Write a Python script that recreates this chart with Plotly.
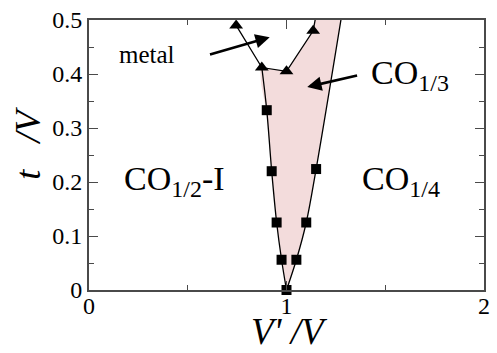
import plotly.graph_objects as go

# Phase boundary CO1/2-I | CO1/3 (squares)
left_x = [1.0, 0.975, 0.95, 0.925, 0.90]
left_y = [0.0, 0.056, 0.125, 0.220, 0.333]

# Phase boundary CO1/3 | CO1/4 (squares)
right_x = [1.0, 1.05, 1.10, 1.15]
right_y = [0.0, 0.056, 0.125, 0.224]

# Metal boundary (triangles)
metal_x = [0.745, 0.875, 1.0, 1.135]
metal_y = [0.490, 0.412, 0.405, 0.480]

# Guide-line continuations beyond the computed points
left_ext_x, left_ext_y = [0.875], [0.412]
right_ext_x, right_ext_y = [1.28], [0.51]
metal_ext_x, metal_ext_y = [1.15], [0.51]

# Outline of the CO1/3 region
shade_x = [1.0, 0.975, 0.95, 0.925, 0.897, 0.872, 0.866, 0.875, 1.0, 1.135, 1.15, 1.28, 1.15, 1.10, 1.05, 1.0]
shade_y = [0.0, 0.056, 0.125, 0.220, 0.333, 0.380, 0.412, 0.412, 0.405, 0.480, 0.51, 0.51, 0.224, 0.125, 0.056, 0.0]

FONT = "Liberation Serif"
AX = "#4a4a4a"

fig = go.Figure()

fig.add_trace(go.Scatter(
    x=shade_x, y=shade_y, mode="lines", fill="toself",
    fillcolor="#f3dcdc", line=dict(width=0), hoverinfo="skip",
))

fig.add_trace(go.Scatter(
    x=left_x + left_ext_x, y=left_y + left_ext_y, mode="lines",
    line=dict(color="black", width=1.3, shape="spline"),
))
fig.add_trace(go.Scatter(
    x=right_x + right_ext_x, y=right_y + right_ext_y, mode="lines",
    line=dict(color="black", width=1.3, shape="spline"),
))
fig.add_trace(go.Scatter(
    x=metal_x + metal_ext_x, y=metal_y + metal_ext_y, mode="lines",
    line=dict(color="black", width=1.3),
))

fig.add_trace(go.Scatter(
    x=left_x + right_x[1:], y=left_y + right_y[1:], mode="markers",
    marker=dict(symbol="square", size=10, color="black"), cliponaxis=False,
))
fig.add_trace(go.Scatter(
    x=metal_x, y=metal_y, mode="markers",
    marker=dict(symbol="triangle-up", size=12, color="black"), cliponaxis=False,
))


def co(sub, tail=""):
    return f"CO<sub><span style='font-size:24px'>{sub}</span></sub>{tail}"


txt = dict(family=FONT, size=34, color="black")
fig.add_annotation(x=0.165, y=0.2025, text=co("1/2", "-I"), showarrow=False,
                   xanchor="left", yanchor="middle", font=txt)
fig.add_annotation(x=1.37, y=0.2025, text=co("1/4"), showarrow=False,
                   xanchor="left", yanchor="middle", font=txt)
fig.add_annotation(x=1.42, y=0.398, text=co("1/3"), showarrow=False,
                   xanchor="left", yanchor="middle", font=txt)
fig.add_annotation(x=0.295, y=0.436, text="metal", showarrow=False,
                   xanchor="center", yanchor="middle",
                   font=dict(family=FONT, size=25, color="black"))

arrow = dict(showarrow=True, arrowhead=2, arrowsize=1.1, arrowwidth=2.6,
             arrowcolor="black", axref="x", ayref="y", text="")
fig.add_annotation(x=0.915, y=0.468, ax=0.605, ay=0.4355, **arrow)
fig.add_annotation(x=1.105, y=0.376, ax=1.365, ay=0.398, **arrow)

# Axis titles
fig.add_annotation(xref="paper", yref="paper", x=0.5075, y=-0.155, text="<i>V' /V</i>",
                   showarrow=False, xanchor="center", yanchor="middle",
                   font=dict(family=FONT, size=37, color="black"))
fig.add_annotation(xref="paper", yref="paper", x=-0.155, y=0.545,
                   text="<i>t&nbsp;&nbsp;&nbsp;/V</i>",
                   showarrow=False, xanchor="center", yanchor="middle", textangle=-90,
                   font=dict(family=FONT, size=36, color="black"))

axis_common = dict(
    showgrid=False, zeroline=False, showline=True, linecolor=AX, linewidth=2,
    mirror="ticks", ticks="inside", tickcolor=AX, ticklen=9, tickwidth=1.3,
    tickfont=dict(family=FONT, size=24, color="black"),
    ticklabeloverflow="allow",
    minor=dict(ticks="inside", ticklen=5, tickcolor=AX, tickwidth=1.3, showgrid=False),
)

fig.update_xaxes(range=[0, 2], tickvals=[0, 1, 2], ticktext=["0", "1", "2"],
                 minor_dtick=0.5, ticklabelstandoff=-7, **axis_common)
fig.update_yaxes(range=[0, 0.5], tickvals=[0, 0.1, 0.2, 0.3, 0.4, 0.5],
                 ticktext=["0", "0.1", "0.2", "0.3", "0.4", "0.5"],
                 minor_dtick=0.05, **axis_common)

fig.update_layout(
    width=497, height=353, showlegend=False,
    margin=dict(l=89, r=7, t=11, b=63),
    paper_bgcolor="white", plot_bgcolor="white",
)

fig.write_html("out.html")
